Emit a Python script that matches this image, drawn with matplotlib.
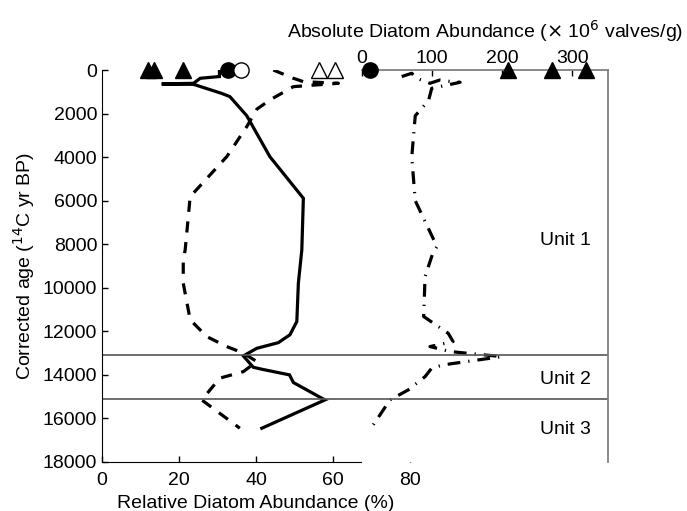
import numpy as np
import matplotlib.pyplot as plt

plt.rcParams['font.family'] = ['Liberation Sans', 'DejaVu Sans']
plt.rcParams['font.size'] = 14

# relative abundance (left axis, %), ages in 14C yr BP
solid_pct = [30.5, 30.5, 25.5, 23.8, 15.5, 23.8, 31.0, 33.2, 37.6, 43.6, 52.3, 51.9,
             51.0, 50.6, 48.8, 45.8, 40.2, 36.7, 39.3, 41.5, 48.7, 49.7, 57.9, 41.5]
solid_age = [50, 300, 380, 610, 640, 660, 1070, 1220, 2100, 3980, 5890, 8260,
             9790, 11550, 12160, 12520, 12780, 13130, 13650, 13740, 14000, 14350, 15150, 16450]

dash_pct = [44.5, 49.7, 52.3, 61.4, 49.7, 43.6, 40.2, 37.6, 32.4, 22.9, 21.6, 21.1,
            21.1, 22.9, 27.2, 32.4, 36.7, 40.2, 36.7, 30.6, 25.9, 35.8]
dash_age = [0, 380, 535, 610, 765, 1377, 1800, 2600, 3980, 5815, 8260, 8720,
            9790, 11470, 12240, 12700, 13000, 13390, 13850, 14150, 15150, 16450]

# absolute abundance (right axis, x10^6 valves/g)
abs_val = [56.7, 71, 78, 97, 111, 128, 140, 99.5, 95, 76, 71, 76, 107, 101, 90, 88,
           123, 130, 97, 126, 199.5, 116, 99.5, 90, 66, 40, 16]
abs_age = [300, 150, 380, 610, 460, 535, 565, 840, 1400, 2100, 4000, 6000, 8110, 8415, 9490, 11320,
           12090, 12470, 12700, 12930, 13160, 13540, 13690, 14080, 14690, 15150, 16300]

# symbols along the top
left_filled_tri = [12.0, 13.5, 21.0]
left_filled_circ = [32.7]
left_open_circ = [36.0]
left_open_tri = [56.4, 60.5]
right_filled_circ = [11]
right_filled_tri = [209, 271, 319]

unit_bounds = [13100, 15100]
unit_names = ['Unit 1', 'Unit 2', 'Unit 3']
unit_age = [7850, 14230, 16520]

fig = plt.figure(figsize=(6.87, 5.11), dpi=100)
ax1 = fig.add_axes([0.1485, 0.0959, 0.4483, 0.7671])
ax2 = fig.add_axes([0.5269, 0.0959, 0.3581, 0.7671])

lw = 2.3
ax1.plot(solid_pct, solid_age, color='k', lw=lw, solid_joinstyle='miter')
ax1.plot(dash_pct, dash_age, color='k', lw=lw, dashes=(3.5, 3))
ax1.set_xlim(0, 80)
ax1.set_ylim(18000, 0)
ax1.set_xticks([0, 20, 40, 60, 80])
ax1.set_yticks(np.arange(0, 18001, 2000))
ax1.tick_params(direction='in', length=4, width=1)
ax1.tick_params(axis='x', pad=7)
for s in ['top', 'right']:
    ax1.spines[s].set_visible(False)
ax1.spines['bottom'].set_bounds(0, 67.3)
ax1.set_xlabel('Relative Diatom Abundance (%)')
ax1.xaxis.set_label_coords(0.5, -0.083)
ax1.set_ylabel(r'Corrected age ($^{14}$C yr BP)', labelpad=4)
for b in unit_bounds:
    ax1.axhline(b, color='#555555', lw=1.2)

ms = 11
ax1.plot(left_filled_tri, [0] * len(left_filled_tri), '^', color='k', ms=ms, clip_on=False, zorder=5)
ax1.plot(left_filled_circ, [0], 'o', color='k', ms=ms, clip_on=False, zorder=5)
ax1.plot(left_open_circ, [0], 'o', mfc='white', mec='k', ms=ms, clip_on=False, zorder=5)
ax1.plot(left_open_tri, [0, 0], '^', mfc='white', mec='k', ms=ms, clip_on=False, zorder=5)

ax2.set_facecolor('white')
ax2.plot(abs_val, abs_age, color='k', lw=lw, dashes=(4, 2.5, 0.4, 2.5))
ax2.set_xlim(0, 351)
ax2.set_ylim(18000, 0)
ax2.xaxis.tick_top()
ax2.xaxis.set_label_position('top')
ax2.set_xticks([0, 100, 200, 300])
ax2.set_yticks([])
ax2.tick_params(direction='in', length=4, width=1, pad=2)
ax2.spines['left'].set_visible(False)
ax2.spines['bottom'].set_visible(False)
ax2.spines['top'].set_color('#808080')
ax2.spines['right'].set_color('#808080')
ax2.spines['top'].set_linewidth(1.3)
ax2.spines['right'].set_linewidth(1.3)
ax2.set_xlabel(r'Absolute Diatom Abundance ($\times$ 10$^6$ valves/g)', labelpad=9)
for b in unit_bounds:
    ax2.axhline(b, color='#555555', lw=1.2)
ax2.plot(right_filled_circ, [0], 'o', color='k', ms=ms, clip_on=False, zorder=5)
ax2.plot(right_filled_tri, [0] * 3, '^', color='k', ms=ms, clip_on=False, zorder=5)
for name, a in zip(unit_names, unit_age):
    ax2.text(326, a, name, ha='right', va='center')

fig.savefig('out.png', dpi=100)
